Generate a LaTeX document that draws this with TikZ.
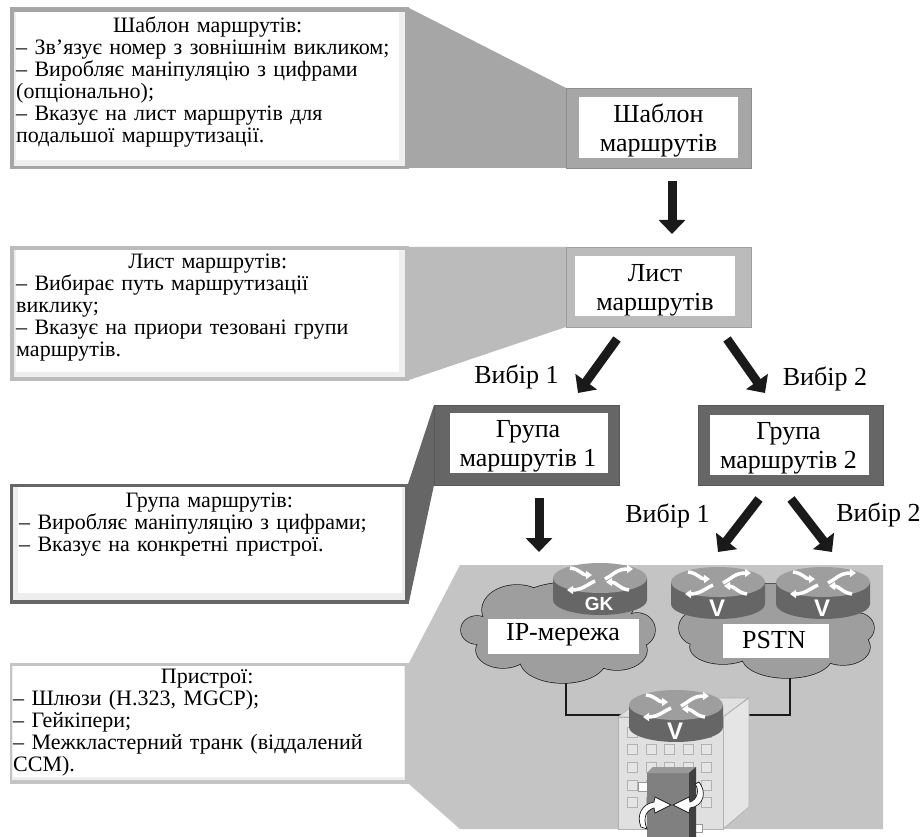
\documentclass[tikz,border=0pt]{standalone}
\usepackage{fontspec}
\setmainfont{Liberation Serif}
\newfontfamily\labelsans{Liberation Sans}
\usetikzlibrary{arrows.meta,calc}
\definecolor{cA}{HTML}{A6A6A6}
\definecolor{cB}{HTML}{BBBBBB}
\definecolor{cC}{HTML}{666666}
\definecolor{cD}{HTML}{C4C4C4}
\definecolor{strip}{HTML}{EEEEEE}
\definecolor{ink}{HTML}{1A1A1A}
\tikzset{
  lefttext/.style={anchor=north west,inner sep=0pt,align=left,text width=#1,font=\fontsize{22}{22}\selectfont},
  whitebox/.style={fill=white,inner sep=0pt},
  boxtext/.style={inner sep=0pt,align=center,font=\fontsize{26}{29}\selectfont},
  flow/.style={ink,line width=9pt,-{Triangle[width=26pt,length=14pt]}},
  choice/.style={inner sep=0pt,font=\fontsize{26}{28}\selectfont},
  frame/.style={draw=#1!85!black,line width=.7pt,fill=#1,anchor=north west,minimum width=185pt,minimum height=80pt,inner sep=0pt},
  cloudline/.style={draw=ink,line width=1.4pt},
  wire/.style={ink,line width=2pt}
}
% router: x, y of the top centre, letter size
\newcommand\rtr[3]{%
  \begin{scope}[shift={(#1,#2)}]
    \fill[black!60] (-47,0) -- (-47,22) arc[start angle=180,end angle=360,x radius=47pt,y radius=15pt] -- (47,0) -- cycle;
    \fill[black!38] (0,0) ellipse[x radius=47pt,y radius=15pt];
    \draw[white,line width=3.5pt,-{Triangle[width=8pt,length=6pt]}] (-30,-10) .. controls (-20,-9) and (-18,-3) .. (-8,-3);
    \draw[white,line width=3.5pt,-{Triangle[width=8pt,length=6pt]}] (5,1) .. controls (12,-2) and (16,-9) .. (33,-9);
    \draw[white,line width=3.5pt,-{Triangle[width=8pt,length=6pt]}] (-5,3) .. controls (-12,6) and (-18,12) .. (-33,12);
    \draw[white,line width=3.5pt,-{Triangle[width=8pt,length=6pt]}] (29,12) .. controls (20,11) and (16,4) .. (6,4);
    \node[text=white,inner sep=0pt,font=\labelsans\bfseries\fontsize{#3}{#3}\selectfont] at (-1,26) {\rtrtext};
  \end{scope}}
\begin{document}
\begin{tikzpicture}[x=1pt,y=-1pt]
\useasboundingbox (0,0) rectangle (924,837);
% funnels and grey field
\fill[cA] (409,8) -- (566,88) -- (566,168) -- (409,168) -- cycle;
\fill[cB] (409,247) -- (566,247) -- (566,327) -- (409,380) -- cycle;
\fill[cC] (408,484) -- (434,405) -- (434,485) -- (409,602) -- cycle;
\fill[cD] (409,663) -- (460,565) -- (883,565) -- (883,829) -- (460,829) -- (409,784) -- cycle;
% left boxes
\fill[cA] (9.5,7) rectangle (409,169);
\fill[strip] (13.5,12.5) rectangle (405,166);
\fill[white] (16,12.5) rectangle (399,160);
\node[lefttext=383pt] (tA) at (16,16.5) {\makebox[383pt][c]{Шаблон маршрутів:}\\
– Зв’язує номер з зовнішнім викликом;\\
– Виробляє маніпуляцію з цифрами\\
(опціонально);\\
– Вказує на лист маршрутів для\\
подальшої маршрутизації.};
\fill[cB] (9.5,246) rectangle (409,381);
\fill[strip] (13.5,250) rectangle (405,377);
\fill[white] (16,250) rectangle (399,372);
\node[lefttext=383pt] (tB) at (16,254) {\makebox[383pt][c]{Лист маршрутів:}\\
– Вибирає путь маршрутизації\\
виклику;\\
– Вказує на приори тезовані групи\\
маршрутів.};
\fill[cC] (9.5,484) rectangle (409,604);
\fill[strip] (13,487) rectangle (405,600);
\fill[white] (18,487) rectangle (402,593);
\node[lefttext=380pt] (tC) at (19,492.5) {\makebox[380pt][c]{Група маршрутів:}\\
– Виробляє маніпуляцію з цифрами;\\
– Вказує на конкретні пристрої.};
\fill[cD] (9.5,663) rectangle (409,784);
\fill[strip] (12,666) rectangle (405,780);
\fill[white] (13,666) rectangle (404,777);
\node[lefttext=388pt] (tD) at (13,669) {\makebox[388pt][c]{Пристрої:}\\
– Шлюзи (H.323, MGCP);\\
– Гейкіпери;\\
– Межкластерний транк (віддалений\\
CCM).};
% flow boxes
\node[frame=cA] (fA) at (566,88) {};
\node[frame=cB] (fB) at (566,247) {};
\node[frame=cC] (fC) at (434,405) {};
\node[frame=cC] (fD) at (698,405) {};
\node[whitebox,minimum width=159pt,minimum height=61pt] (nA) at (658.5,127.5) {};
\node[whitebox,minimum width=160pt,minimum height=60pt] (nB) at (655,286) {};
\node[whitebox,minimum width=158pt,minimum height=60pt] (nC) at (529,443) {};
\node[whitebox,minimum width=159pt,minimum height=60pt] (nD) at (789.5,444.5) {};
\node[boxtext] (xA) at (658.5,131) {Шаблон\\маршрутів};
\node[boxtext] (xB) at (655,290) {Лист\\маршрутів};
\node[boxtext] (xC) at (528,446.5) {Група\\маршрутів 1};
\node[boxtext] (xD) at (788.5,448) {Група\\маршрутів 2};
% arrows
\coordinate (a1s) at (672,181); \coordinate (a1e) at (672,234);
\coordinate (a2s) at (617,339); \coordinate (a2e) at (578,393);
\coordinate (a3s) at (727,339); \coordinate (a3e) at (765,393);
\coordinate (a4s) at (539,498); \coordinate (a4e) at (539,552);
\coordinate (a5s) at (759,499); \coordinate (a5e) at (718,552);
\coordinate (a6s) at (791,499); \coordinate (a6e) at (832,552);
\draw[flow] (a1s) -- (a1e);
\draw[flow] (a2s) -- (a2e);
\draw[flow] (a3s) -- (a3e);
\draw[flow] (a4s) -- (a4e);
\draw[flow] (a5s) -- (a5e);
\draw[flow] (a6s) -- (a6e);
\node[choice] (l1) at (516.5,377) {Вибір 1};
\node[choice] (l2) at (825,379) {Вибір 2};
\node[choice] (l3) at (667.5,516) {Вибір 1};
\node[choice] (l4) at (878.5,515) {Вибір 2};
% wires
\coordinate (w1) at (566,680); \coordinate (w1b) at (566,715); \coordinate (w1e) at (625,715);
\coordinate (w2) at (790,675); \coordinate (w2b) at (790,715); \coordinate (w2e) at (745,715);
\draw[wire] (w1) -- (w1b) -- (w1e);
\draw[wire] (w2) -- (w2b) -- (w2e);
% clouds
\def\cloudA{477/630/16/14,517/610/35/25,503/650/27/18,563/660/43/23,617/650/30/20,637/630/18/17,573/607/60/25,563/630/70/25}
\def\cloudB{697/628/18/17,723/647/33/17,787/657/45/21,843/647/27/18,857/628/17/15,773/617/85/33}
\foreach \x/\y/\a/\b in \cloudA {\path[cloudline] (\x,\y) ellipse[x radius=\a pt,y radius=\b pt];}
\foreach \x/\y/\a/\b in \cloudB {\path[cloudline] (\x,\y) ellipse[x radius=\a pt,y radius=\b pt];}
\foreach \x/\y/\a/\b in \cloudA {\fill[black!38] (\x,\y) ellipse[x radius=\a pt,y radius=\b pt];}
\foreach \x/\y/\a/\b in \cloudB {\fill[black!38] (\x,\y) ellipse[x radius=\a pt,y radius=\b pt];}
\node[whitebox,minimum width=151pt,minimum height=35pt] (ipbox) at (563.5,636.5) {};
\node[whitebox,minimum width=106pt,minimum height=34pt] (pstnbox) at (776,641) {};
\node[choice] (ip) at (563,635) {IP-мережа};
\node[choice] (pstn) at (774,640) {PSTN};
% cloud routers
\def\rtrtext{GK}\rtr{600}{578}{19}
\def\rtrtext{V}\rtr{718}{582}{24}
\def\rtrtext{V}\rtr{823}{582}{24}
% building
\fill[black!12,draw=black!30,line width=.7pt] (618,717) -- (643,698) -- (748,698) -- (723,717) -- cycle;
\fill[black!10,draw=black!30,line width=.7pt] (723,717) -- (749,698) -- (749,807) -- (723,829) -- cycle;
\fill[black!12,draw=black!30,line width=.7pt] (618,717) rectangle (723,829);
\foreach \x in {632,651,669,688,706} \foreach \y in {732,749,767,785,802}
  {\fill[white!90!black,draw=black!30,line width=.8pt] (\x-5,\y-5) rectangle (\x+5,\y+5);}
\def\rtrtext{V}\rtr{676}{705}{24}
% box with swirl
\fill[white,draw=black!40,line width=.7pt] (638,782) rectangle (650,791);
\fill[white,draw=black!40,line width=.7pt] (690,824) rectangle (702,832);
\fill[black!50] (647,773) -- (653,767) -- (696,767) -- (689,773) -- (689,837) -- (647,837) -- cycle;
\fill[black!40] (647,773) -- (653,767) -- (696,767) -- (689,773) -- cycle;
\fill[black!75] (689,773) -- (696,767) -- (696,837) -- (689,837) -- cycle;
\fill[white,draw=ink,line width=.7pt] (641,827) .. controls (636,815) and (642,804) .. (654,802) -- (655,797) -- (671,805) -- (655,813) -- (654,808) .. controls (647,810) and (642,817) .. (647,829) -- cycle;
\fill[white,draw=ink,line width=.7pt] (699,782) .. controls (707,792) and (704,806) .. (690,808) -- (689,813) -- (673,805) -- (689,797) -- (690,802) .. controls (697,800) and (700,790) .. (695,784) -- cycle;
\end{tikzpicture}
\end{document}
